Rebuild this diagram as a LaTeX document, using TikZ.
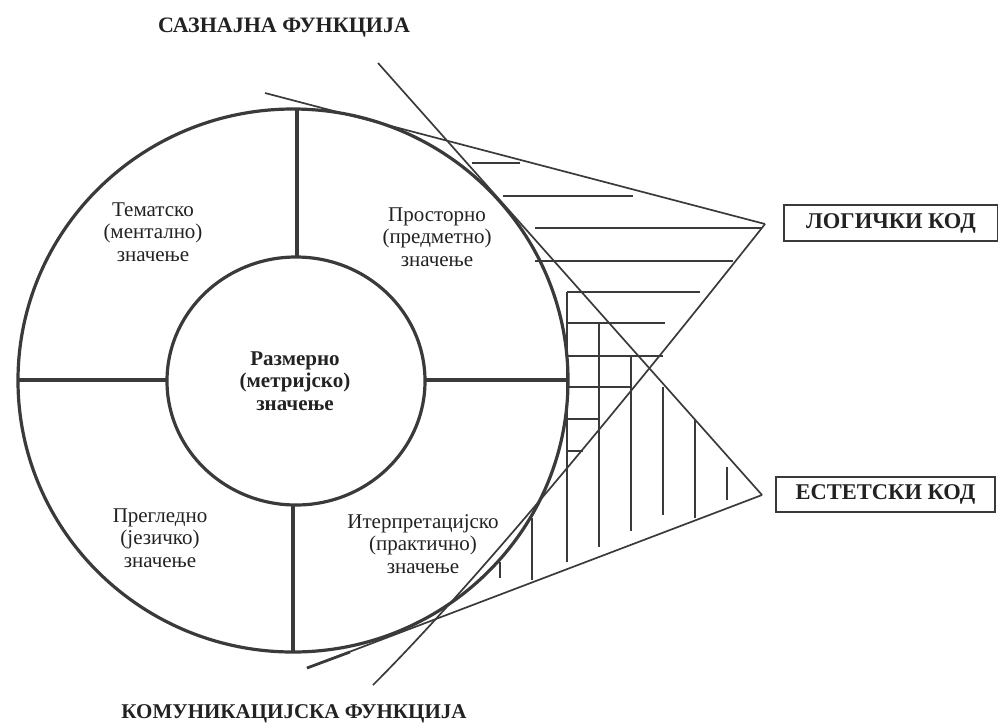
\documentclass[tikz,border=0pt]{standalone}
\usepackage{fontspec}
\setmainfont{Liberation Serif}
\definecolor{ink}{HTML}{3A3A3A}
\definecolor{txt}{HTML}{222222}
\begin{document}
\begin{tikzpicture}[x=1pt,y=-1pt,
  ring/.style={line width=3.2pt, draw=ink},
  divider/.style={line width=3.2pt, draw=ink},
  ray/.style={line width=1.7pt, draw=ink},
  hatch/.style={line width=1.5pt, draw=ink},
  seg/.style={font=\fontsize{21}{22.5}\selectfont, align=center, text=txt, inner sep=0pt},
  core/.style={font=\bfseries\fontsize{21}{22.5}\selectfont, align=center, text=txt, inner sep=0pt},
  title/.style={font=\bfseries\fontsize{22}{24}\selectfont, text=txt, inner sep=0pt},
  codebox/.style={draw=ink, line width=1.7pt, font=\bfseries\fontsize{22.5}{24}\selectfont,
    text=txt, inner sep=0pt}
]
\useasboundingbox (0,0) rectangle (998,726);

% --- ring of meanings ---
\draw[ring] (293,380.5) ellipse [x radius=275pt, y radius=271.5pt];
\draw[ring] (296,381) ellipse [x radius=129pt, y radius=124pt];

\coordinate (dTop1) at (297,109);  \coordinate (dTop2) at (297,257);
\coordinate (dBot1) at (293,505);  \coordinate (dBot2) at (293,652);
\coordinate (dLft1) at (18,380);   \coordinate (dLft2) at (167,380);
\coordinate (dRgt1) at (425,380);  \coordinate (dRgt2) at (568,380);
\draw[divider] (dTop1) -- (dTop2);
\draw[divider] (dBot1) -- (dBot2);
\draw[divider] (dLft1) -- (dLft2);
\draw[divider] (dRgt1) -- (dRgt2);

% --- labels inside the ring ---
\node[core] (metric) at (295,381) {Размерно\\(метријско)\\значење};
\node[seg] (thematic) at (153,232) {Тематско\\(ментално)\\значење};
\node[seg] (spatial) at (437,237) {Просторно\\(предметно)\\значење};
\node[seg] (lingual) at (160,538) {Прегледно\\(језичко)\\значење};
\node[seg] (practical) at (423,544) {Итерпретацијско\\(практично)\\значење};

% --- functions ---
\node[title] (cognitive) at (284,28) {САЗНАЈНА ФУНКЦИЈА};
\node[title, font=\bfseries\fontsize{21}{24}\selectfont] (communic) at (294,714) {КОМУНИКАЦИЈСКА ФУНКЦИЈА};

% --- codes ---
\node[codebox, minimum width=214pt, minimum height=36pt] (logic) at (891,223) {ЛОГИЧКИ КОД};
\node[codebox, minimum width=219pt, minimum height=35pt] (aesth) at (885.5,494.5) {ЕСТЕТСКИ КОД};

% --- the two wedges ---
\coordinate (apexL) at (765,224);
\coordinate (apexE) at (762,495);
\coordinate (rayA) at (265,93);
\coordinate (rayB) at (378,63);
\coordinate (rayC) at (373,685);
\coordinate (rayD) at (307,668);
\coordinate (rayD2) at (350,652);

\draw[ray] (rayA) -- (apexL);
\draw[ray] (rayB) -- (apexE);
\draw[ray] (apexL) .. controls (594,440) and (464,594) .. (rayC);
\draw[ray] (apexE) -- (rayD);
\draw[line width=2.8pt, draw=ink] (rayD2) -- (rayD);

% horizontal hatching of the upper wedge
\foreach \y/\a/\b in {163/472/520, 196/503/633, 228/535/762, 261/535/733,
                      292/567/700, 323/567/665, 356/567/663, 387/567/630,
                      419/567/598, 451/567/583}
  \draw[hatch] (\a,\y) -- (\b,\y);

% vertical hatching of the lower wedge
\foreach \x/\a/\b in {500/562/578, 532/518/580, 567/292/562, 599/323/547,
                      631/356/531, 663/387/515, 695/419/518, 727/467/500}
  \draw[hatch] (\x,\a) -- (\x,\b);
\end{tikzpicture}
\end{document}
